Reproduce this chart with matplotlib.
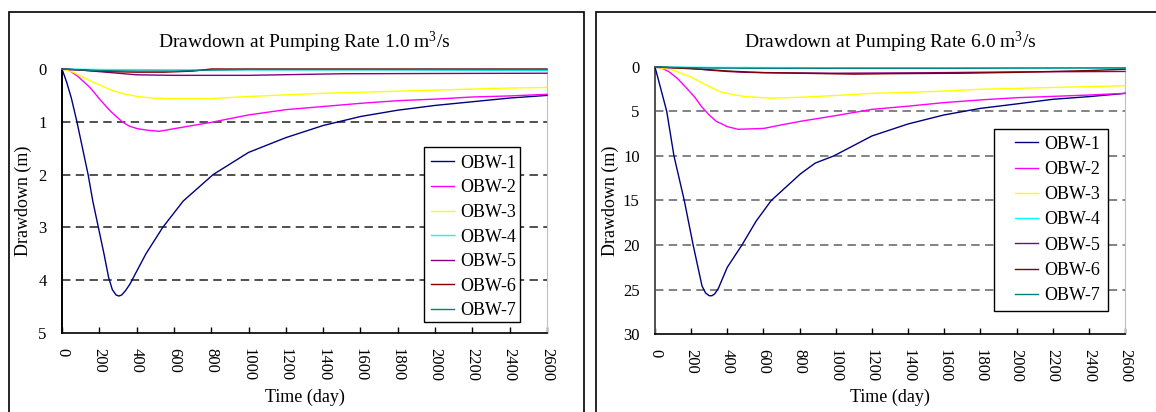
"""
Drawdown curves at two pumping rates (OBW-1 .. OBW-7)
"""
import matplotlib
matplotlib.use("Agg")
import matplotlib.pyplot as plt
from matplotlib.patches import Rectangle

plt.rcParams['font.family'] = ['Liberation Serif', 'DejaVu Serif']
plt.rcParams['mathtext.fontset'] = 'custom'
plt.rcParams['mathtext.rm'] = 'Liberation Serif'
plt.rcParams['mathtext.default'] = 'regular'

v_labels = ["OBW-1", "OBW-2", "OBW-3", "OBW-4", "OBW-5", "OBW-6", "OBW-7"]
v_colors = ["#000080", "#FF00FF", "#FFFF00", "#00FFFF", "#800080", "#800000", "#008080"]
v_xticks = list(range(0, 2800, 200))

# pumping rate 1.0 m3/s
t1_obw1 = [0, 25, 50, 80, 110, 140, 165, 195, 225, 250, 270, 290, 305, 320, 340, 365, 390, 450, 540, 650, 810, 1000, 1200, 1400, 1600, 1800, 2000, 2200, 2400, 2600]
d1_obw1 = [0, 0.25, 0.55, 1.0, 1.5, 2.0, 2.5, 3.0, 3.5, 3.95, 4.18, 4.28, 4.3, 4.28, 4.2, 4.07, 3.9, 3.5, 3.0, 2.5, 2.0, 1.58, 1.3, 1.07, 0.9, 0.78, 0.69, 0.62, 0.55, 0.5]
t1_obw2 = [0, 40, 85, 150, 204, 260, 323, 360, 403, 460, 522, 601, 700, 800, 1000, 1200, 1400, 1600, 1800, 2000, 2200, 2400, 2600]
d1_obw2 = [0, 0.03, 0.14, 0.35, 0.58, 0.8, 1.0, 1.08, 1.13, 1.16, 1.18, 1.13, 1.07, 1.01, 0.87, 0.77, 0.71, 0.65, 0.6, 0.57, 0.53, 0.51, 0.48]
t1_obw3 = [0, 60, 125, 200, 264, 330, 403, 480, 561, 700, 800, 1000, 1200, 1400, 1600, 1800, 2000, 2200, 2400, 2600]
d1_obw3 = [0, 0.06, 0.18, 0.3, 0.4, 0.47, 0.52, 0.55, 0.56, 0.56, 0.56, 0.52, 0.49, 0.46, 0.44, 0.42, 0.40, 0.38, 0.36, 0.35]
t1_obw4 = [0, 200, 600, 1000, 1600, 2000, 2600]
d1_obw4 = [0, 0.01, 0.015, 0.015, 0.015, 0.02, 0.03]
t1_obw5 = [0, 100, 200, 300, 400, 600, 1000, 1500, 2000, 2600]
d1_obw5 = [0, 0.02, 0.05, 0.08, 0.11, 0.12, 0.12, 0.09, 0.085, 0.08]
t1_obw6 = [0, 100, 250, 400, 550, 700, 800, 1000, 2600]
d1_obw6 = [0, 0.02, 0.05, 0.06, 0.06, 0.04, 0.0, 0.0, 0.0]
t1_obw7 = [0, 200, 400, 600, 800, 1000, 2600]
d1_obw7 = [0, 0.03, 0.04, 0.04, 0.02, 0.01, 0.01]

# pumping rate 6.0 m3/s
t6_obw1 = [0, 34, 65, 105, 162, 211, 260, 280, 300, 315, 330, 350, 400, 481, 560, 643, 805, 886, 988, 1200, 1400, 1596, 1800, 2000, 2200, 2400, 2600]
d6_obw1 = [0, 2.6, 5, 10, 15, 20, 24.6, 25.4, 25.7, 25.7, 25.5, 24.9, 22.5, 20, 17.3, 15, 12, 10.8, 10, 7.75, 6.4, 5.4, 4.65, 4.15, 3.63, 3.33, 2.96]
t6_obw2 = [0, 40, 75, 125, 176, 220, 258, 300, 339, 400, 460, 602, 700, 805, 988, 1200, 1400, 1600, 1800, 2000, 2200, 2400, 2600]
d6_obw2 = [0, 0.15, 0.5, 1.3, 2.4, 3.4, 4.46, 5.4, 6.1, 6.7, 7.0, 6.9, 6.5, 6.1, 5.5, 4.76, 4.4, 4.0, 3.7, 3.45, 3.3, 3.15, 2.96]
t6_obw3 = [0, 100, 197, 280, 359, 430, 501, 643, 800, 1000, 1200, 1400, 1600, 1800, 2000, 2200, 2400, 2600]
d6_obw3 = [0, 0.35, 1.1, 2.0, 2.77, 3.1, 3.33, 3.5, 3.4, 3.2, 2.96, 2.85, 2.7, 2.5, 2.4, 2.3, 2.2, 2.1]
t6_obw4 = [0, 300, 1000, 2000, 2600]
d6_obw4 = [0, 0.05, 0.08, 0.1, 0.12]
t6_obw5 = [0, 200, 300, 400, 500, 700, 1000, 1500, 2000, 2600]
d6_obw5 = [0, 0.15, 0.35, 0.5, 0.6, 0.65, 0.7, 0.65, 0.55, 0.5]
t6_obw6 = [0, 150, 300, 400, 600, 800, 1100, 1300, 1700, 2000, 2400, 2600]
d6_obw6 = [0, 0.15, 0.3, 0.45, 0.64, 0.7, 0.8, 0.75, 0.7, 0.6, 0.4, 0.25]
t6_obw7 = [0, 300, 600, 1000, 1600, 2000, 2600]
d6_obw7 = [0, 0.12, 0.15, 0.15, 0.15, 0.12, 0.1]

l_series_1 = [(t1_obw1, d1_obw1), (t1_obw2, d1_obw2), (t1_obw3, d1_obw3), (t1_obw4, d1_obw4),
              (t1_obw5, d1_obw5), (t1_obw6, d1_obw6), (t1_obw7, d1_obw7)]
l_series_6 = [(t6_obw1, d6_obw1), (t6_obw2, d6_obw2), (t6_obw3, d6_obw3), (t6_obw4, d6_obw4),
              (t6_obw5, d6_obw5), (t6_obw6, d6_obw6), (t6_obw7, d6_obw7)]

W, H = 1156, 412
fig = plt.figure(figsize=(W/100, H/100), dpi=100)

# outer frames around each chart
for x0, x1 in [(9, 584), (596, 1170)]:
    fig.patches.append(Rectangle((x0/W, -0.1), (x1-x0)/W, 1.1 - 12/H, transform=fig.transFigure,
                                 fill=False, edgecolor='black', linewidth=1.2))


def draw_panel(rect, l_series, ymax, ystep, s_rate, grid_color, left_color, leg_box, leg_pos, leg_sp,
               title_y, xlab_y, ylab_x):
    ax = fig.add_axes([rect[0]/W, 1 - rect[3]/H, (rect[2]-rect[0])/W, (rect[3]-rect[1])/H])
    for idx in range(1, ymax // ystep):
        ax.axhline(idx*ystep, color=grid_color, linestyle=(0, (5.5, 3.5)), linewidth=1.1, zorder=1)
    for (v_t, v_d), s_lab, s_col in zip(l_series, v_labels, v_colors):
        ax.plot(v_t, v_d, color=s_col, linewidth=1.0, label=s_lab, clip_on=False, zorder=3)
    ax.set_xlim(0, 2600)
    ax.set_ylim(ymax, 0)
    ax.set_xticks(v_xticks)
    ax.set_xticklabels([str(x) for x in v_xticks], rotation=270, fontsize=12, va='top', ha='center')
    ax.set_yticks(range(0, ymax + 1, ystep))
    ax.tick_params(axis='y', length=0, pad=11, labelsize=12)
    ax.tick_params(axis='x', direction='in', length=4, width=1, pad=11)
    ax.spines['top'].set_visible(False)
    ax.spines['right'].set_color('#c0c0c0')
    ax.spines['left'].set_color(left_color)
    ax.spines['left'].set_linewidth(1.4)
    ax.spines['bottom'].set_linewidth(1.2)
    ax.text(0.5, title_y, f"Drawdown at Pumping Rate {s_rate} m$^3$/s", transform=ax.transAxes,
            ha='center', va='center', fontsize=14)
    ax.set_xlabel("Time (day)", fontsize=13)
    ax.xaxis.set_label_coords(0.5, xlab_y)
    ax.xaxis.label.set_va('center')
    ax.set_ylabel("Drawdown (m)", fontsize=13)
    ax.yaxis.set_label_coords(ylab_x, 0.5)
    ax.yaxis.label.set_va('center')

    # legend box drawn separately so its padding matches the original
    bx0, by0, bx1, by1 = leg_box
    box = Rectangle((bx0/W, 1 - by1/H), (bx1-bx0)/W, (by1-by0)/H, transform=fig.transFigure,
                    facecolor='white', edgecolor='black', linewidth=1.0, zorder=4)
    ax.add_artist(box)
    box.set_clip_on(False)
    leg = ax.legend(loc='center left', bbox_to_anchor=(leg_pos[0]/W, 1 - leg_pos[1]/H),
                    bbox_transform=fig.transFigure, fontsize=13, frameon=False,
                    handlelength=1.3, handletextpad=0.3, labelspacing=leg_sp, borderpad=0, borderaxespad=0)
    leg.set_zorder(5)
    return ax


draw_panel((62, 69, 547, 333), l_series_1, 5, 1, "1.0", '#202020', 'black',
           (424, 147, 520, 322), (431, 237), 0.42, 1.102, -0.242, -0.080)
draw_panel((655, 67, 1125, 334), l_series_6, 30, 5, "6.0", '#606060', '#505050',
           (994, 129, 1108, 311), (1015, 220), 0.46, 1.094, -0.236, -0.094)

plt.savefig("out.png", dpi=100)
